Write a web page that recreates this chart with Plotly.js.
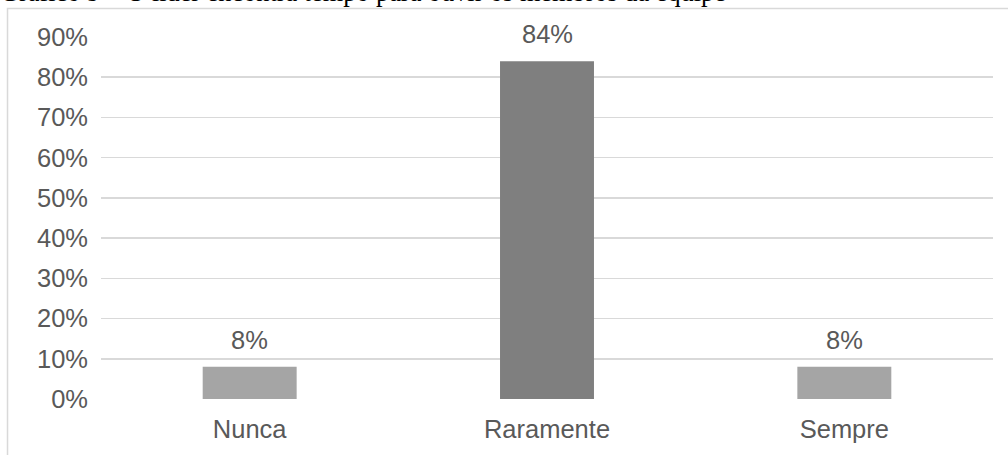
<!DOCTYPE html>
<html>
<head>
<meta charset="utf-8">
<script src="https://cdn.plot.ly/plotly-3.0.1.min.js"></script>
<style>
  html, body { margin: 0; padding: 0; background: #fff; }
  #chart { width: 1008px; height: 455px; }
</style>
</head>
<body>
<div id="chart"></div>
<script>
// Respostas: "O líder encontra tempo para ouvir os membros da equipe"
const categories = ['Nunca', 'Raramente', 'Sempre'];
const shares = [0.08, 0.84, 0.08];
const barColors = ['#a5a5a5', '#7f7f7f', '#a5a5a5'];
const yTicks = [0, 0.1, 0.2, 0.3, 0.4, 0.5, 0.6, 0.7, 0.8, 0.9];
const yTickLabels = ['0%', '10%', '20%', '30%', '40%', '50%', '60%', '70%', '80%', '90%'];

const fmtPct = v => Math.round(v * 100) + '%';
const axisFont = { family: 'Liberation Sans, Arial, sans-serif', size: 25.5, color: '#595959' };

const trace = {
  type: 'bar',
  x: categories,
  y: shares,
  width: 0.316,
  marker: { color: barColors, line: { width: 0 } },
  hoverinfo: 'skip'
};

// Value labels above each bar
const valueLabels = categories.map((c, i) => ({
  x: c,
  y: shares[i],
  xref: 'x',
  yref: 'y',
  text: fmtPct(shares[i]),
  showarrow: false,
  yanchor: 'bottom',
  yshift: 11,
  font: axisFont
}));

const layout = {
  width: 1008,
  height: 455,
  margin: { l: 101, r: 15, t: 37, b: 56, pad: 0 },
  paper_bgcolor: '#ffffff',
  plot_bgcolor: '#ffffff',
  showlegend: false,
  title: {
    text: 'Gráfico 9 – O líder encontra tempo para ouvir os membros da equipe',
    font: { family: 'Liberation Serif, Times New Roman, serif', size: 26.3, color: '#000000' },
    xref: 'container',
    yref: 'container',
    x: 0,
    xanchor: 'left',
    y: 0.9985,
    yanchor: 'bottom',
    pad: { t: 0, b: 0, l: 0, r: 0 }
  },
  xaxis: {
    type: 'category',
    showgrid: false,
    zeroline: false,
    showline: false,
    ticks: '',
    tickfont: axisFont,
    ticklabelstandoff: 12,
    fixedrange: true
  },
  yaxis: {
    range: [0, 0.9],
    tickvals: yTicks,
    ticktext: yTickLabels,
    showgrid: true,
    gridcolor: '#d9d9d9',
    gridwidth: 1.5,
    zeroline: false,
    showline: false,
    ticks: '',
    tickfont: axisFont,
    ticklabelstandoff: 12,
    fixedrange: true
  },
  annotations: valueLabels,
  shapes: [{
    type: 'rect',
    xref: 'paper',
    yref: 'paper',
    x0: -0.1048,
    x1: 1.2,
    y0: -0.3,
    y1: 1.0787,
    line: { color: '#d9d9d9', width: 1.5 },
    fillcolor: 'rgba(0,0,0,0)',
    layer: 'below'
  }]
};

Plotly.newPlot('chart', [trace], layout, { displayModeBar: false, staticPlot: true });
</script>
</body>
</html>
